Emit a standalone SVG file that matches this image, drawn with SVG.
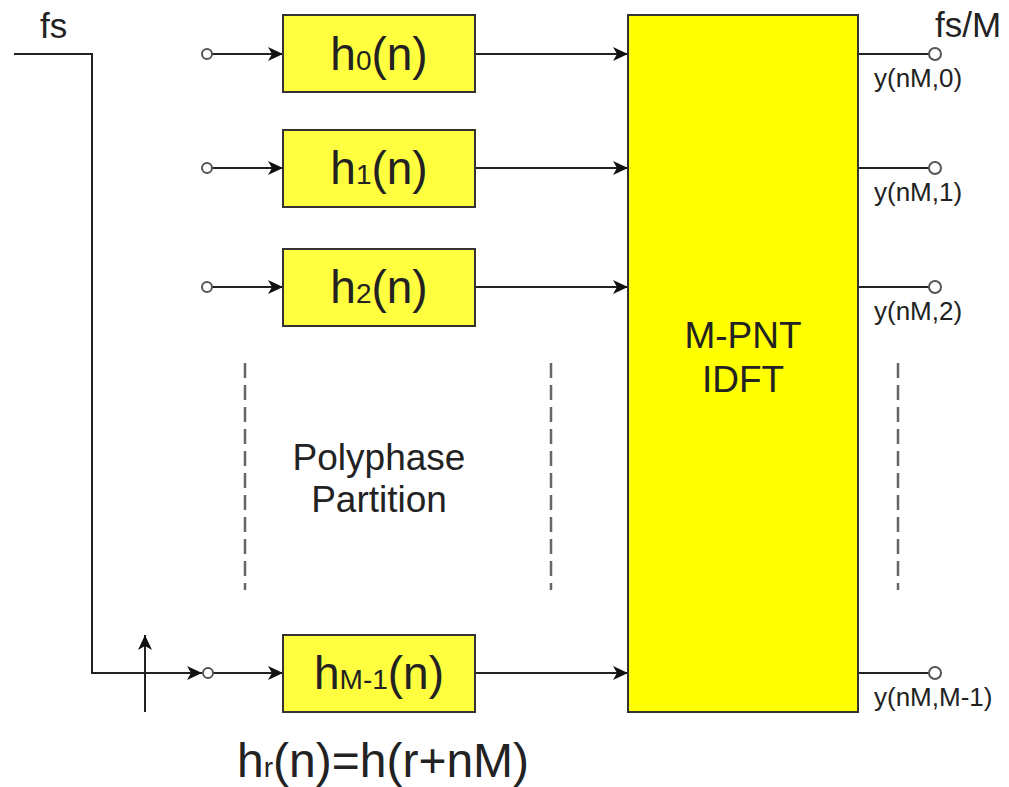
<svg xmlns="http://www.w3.org/2000/svg" width="1009" height="787" viewBox="0 0 1009 787">
<style>
.t{font-family:"Liberation Sans",Arial,sans-serif;fill:#222}
.box{fill:#ffff40;stroke:#333;stroke-width:2}
.big{fill:#ffff00;stroke:#333;stroke-width:2}
.ln{stroke:#222;stroke-width:2;fill:none}
.dash{stroke:#666;stroke-width:2.5;stroke-dasharray:15 7;fill:none}
.port{fill:#fff;stroke:#555;stroke-width:2}
</style>
<defs>
<marker id="ar" markerWidth="16" markerHeight="14" refX="15" refY="7" orient="auto" markerUnits="userSpaceOnUse">
<path d="M0,0 L15,7 L0,14 L4,7 Z" fill="#111"/>
</marker>
</defs>
<rect width="1009" height="787" fill="#fff"/>
<g id="connectors">
<path class="ln" d="M14,54 H92 V673 H202" marker-end="url(#ar)"/>
<line class="ln" x1="145" y1="712" x2="145" y2="635" marker-end="url(#ar)"/>
<line class="ln" x1="212" y1="54" x2="283" y2="54" marker-end="url(#ar)"/>
<line class="ln" x1="212" y1="168" x2="283" y2="168" marker-end="url(#ar)"/>
<line class="ln" x1="212" y1="287" x2="283" y2="287" marker-end="url(#ar)"/>
<line class="ln" x1="213" y1="673" x2="283" y2="673" marker-end="url(#ar)"/>
<line class="ln" x1="475" y1="54" x2="628" y2="54" marker-end="url(#ar)"/>
<line class="ln" x1="475" y1="168" x2="628" y2="168" marker-end="url(#ar)"/>
<line class="ln" x1="475" y1="287" x2="628" y2="287" marker-end="url(#ar)"/>
<line class="ln" x1="475" y1="673" x2="628" y2="673" marker-end="url(#ar)"/>
<line class="ln" x1="858" y1="54" x2="929" y2="54"/>
<line class="ln" x1="858" y1="168" x2="929" y2="168"/>
<line class="ln" x1="858" y1="287" x2="929" y2="287"/>
<line class="ln" x1="858" y1="673" x2="929" y2="673"/>
<line class="dash" x1="245" y1="363" x2="245" y2="590"/>
<line class="dash" x1="551" y1="363" x2="551" y2="590"/>
<line class="dash" x1="898" y1="363" x2="898" y2="590"/>
</g>
<g id="ports">
<circle class="port" cx="207" cy="54" r="5"/>
<circle class="port" cx="207" cy="168" r="5"/>
<circle class="port" cx="207" cy="287" r="5"/>
<circle class="port" cx="208" cy="673" r="5"/>
<circle class="port" cx="935" cy="54" r="6"/>
<circle class="port" cx="935" cy="168" r="6"/>
<circle class="port" cx="935" cy="287" r="6"/>
<circle class="port" cx="935" cy="673" r="6"/>
</g>
<g id="h0"><rect class="box" x="283" y="15" width="192" height="77"/>
<text class="t" x="379" y="70" font-size="46" text-anchor="middle">h<tspan font-size="28">0</tspan>(n)</text></g>
<g id="h1"><rect class="box" x="283" y="130" width="192" height="77"/>
<text class="t" x="379" y="184" font-size="46" text-anchor="middle">h<tspan font-size="28">1</tspan>(n)</text></g>
<g id="h2"><rect class="box" x="283" y="249" width="192" height="77"/>
<text class="t" x="379" y="303" font-size="46" text-anchor="middle">h<tspan font-size="28">2</tspan>(n)</text></g>
<g id="hM1"><rect class="box" x="283" y="635" width="192" height="77"/>
<text class="t" x="379" y="689" font-size="46" text-anchor="middle">h<tspan font-size="28">M-1</tspan>(n)</text></g>
<g id="idft"><rect class="big" x="628" y="15" width="230" height="697"/>
<text class="t" x="743" y="348" font-size="37" text-anchor="middle">M-PNT</text>
<text class="t" x="743" y="392" font-size="37" text-anchor="middle">IDFT</text></g>
<g id="labels">
<text class="t" x="40" y="38" font-size="35">fs</text>
<text class="t" x="935" y="37" font-size="35">fs/M</text>
<text class="t" x="874" y="87" font-size="26">y(nM,0)</text>
<text class="t" x="874" y="201" font-size="26">y(nM,1)</text>
<text class="t" x="874" y="320" font-size="26">y(nM,2)</text>
<text class="t" x="874" y="706" font-size="26">y(nM,M-1)</text>
<text class="t" x="379" y="470" font-size="37" text-anchor="middle">Polyphase</text>
<text class="t" x="379" y="512" font-size="37" text-anchor="middle">Partition</text>
<text class="t" x="237" y="777" font-size="48">h<tspan font-size="28">r</tspan>(n)=h(r+nM)</text>
</g>
</svg>
